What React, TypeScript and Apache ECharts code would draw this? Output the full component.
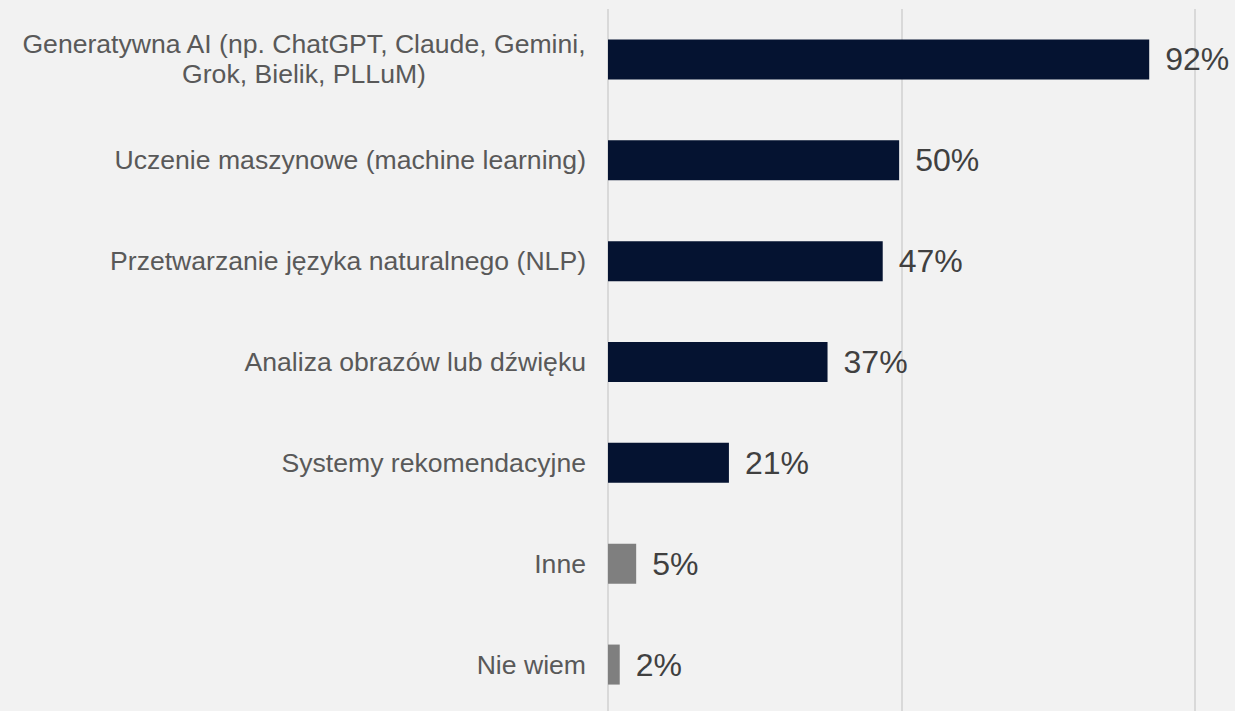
import React, { useEffect, useRef } from "react";
import * as echarts from "echarts";

const categories = [
  "Generatywna AI (np. ChatGPT, Claude, Gemini,\nGrok, Bielik, PLLuM)",
  "Uczenie maszynowe (machine learning)",
  "Przetwarzanie języka naturalnego (NLP)",
  "Analiza obrazów lub dźwięku",
  "Systemy rekomendacyjne",
  "Inne",
  "Nie wiem",
];
const values = [92.2, 49.6, 46.8, 37.4, 20.6, 4.8, 2.0];
const valueLabels = ["92%", "50%", "47%", "37%", "21%", "5%", "2%"];
const highlighted = [true, true, true, true, true, false, false];
const xTicks = [0, 50, 100];

const DARK = "#051331";
const GRAY = "#7f7f7f";
const FONT = "'Liberation Sans', Arial, Helvetica, sans-serif";
const CAT_SIZE = 26.6;

export default function App() {
  const ref = useRef<HTMLDivElement>(null);
  useEffect(() => {
    if (!ref.current) return;
    const chart = echarts.init(ref.current, undefined, { renderer: "svg" });
    chart.setOption({
      animation: false,
      backgroundColor: "#f2f2f2",
      grid: { left: 608, right: 40, top: 9, bottom: 0, containLabel: false },
      xAxis: {
        type: "value",
        min: xTicks[0],
        max: xTicks[xTicks.length - 1],
        interval: 50,
        axisLabel: { show: false },
        axisLine: { show: false },
        axisTick: { show: false },
        splitLine: { show: true, lineStyle: { color: "#d9d9d9", width: 2 } },
      },
      yAxis: {
        type: "category",
        inverse: true,
        data: categories,
        axisLine: { show: false },
        axisTick: { show: false },
        axisLabel: {
          margin: 22,
          fontFamily: FONT,
          fontSize: CAT_SIZE,
          color: "#595959",
          formatter: (v: string) => {
            const lines = v.split("\n");
            if (lines.length > 1) {
              return lines.map((l) => `{c|${l}}`).join("\n");
            }
            return `{n|${v}}`;
          },
          rich: {
            c: {
              width: 564,
              align: "center",
              fontFamily: FONT,
              fontSize: CAT_SIZE,
              color: "#595959",
              lineHeight: 30,
            },
            n: {
              fontFamily: FONT,
              fontSize: CAT_SIZE,
              color: "#595959",
              lineHeight: 30,
            },
          },
        },
      },
      series: [
        {
          type: "bar",
          barWidth: 40,
          data: values.map((v, i) => ({
            value: v,
            itemStyle: { color: highlighted[i] ? DARK : GRAY },
          })),
          label: {
            show: true,
            position: "right",
            distance: 16,
            fontFamily: FONT,
            fontSize: 32,
            color: "#404040",
            formatter: (p: any) => valueLabels[p.dataIndex],
          },
        },
      ],
    });
    return () => chart.dispose();
  }, []);
  return (
    <div
      style={{
        position: "fixed",
        left: 0,
        top: 0,
        width: "100vw",
        height: "100vh",
        background: "#f2f2f2",
        overflow: "hidden",
      }}
    >
      <div ref={ref} style={{ width: 1235, height: 715 }} />
    </div>
  );
}
